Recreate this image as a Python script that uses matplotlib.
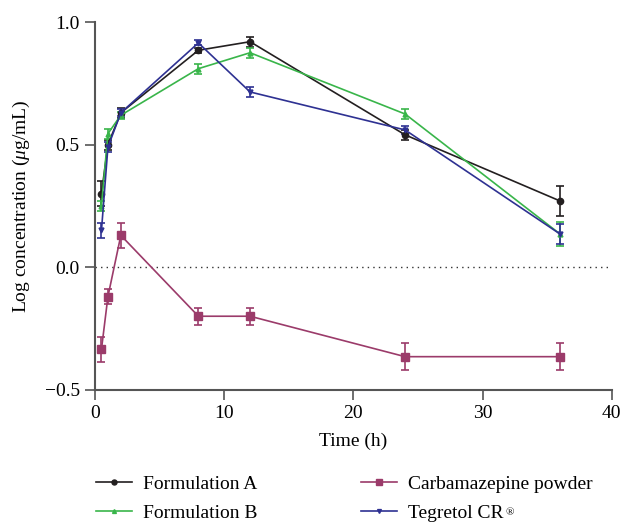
import matplotlib.pyplot as plt
from matplotlib.lines import Line2D
import numpy as np

plt.rcParams["font.family"] = ["Liberation Serif", "DejaVu Serif"]
plt.rcParams["mathtext.fontset"] = "custom"
plt.rcParams["mathtext.it"] = "Liberation Serif:italic"
plt.rcParams["mathtext.rm"] = "Liberation Serif"

time_h = [0.5, 1, 2, 8, 12, 24, 36]

form_a = [0.30, 0.50, 0.63, 0.885, 0.92, 0.54, 0.27]
form_a_err = [0.05, 0.02, 0.02, 0.01, 0.02, 0.02, 0.06]

form_b = [0.25, 0.545, 0.62, 0.81, 0.875, 0.625, 0.135]
form_b_err = [0.02, 0.02, 0.015, 0.02, 0.02, 0.02, 0.05]

powder = [-0.335, -0.12, 0.13, -0.20, -0.20, -0.365, -0.365]
powder_err = [0.05, 0.03, 0.05, 0.035, 0.035, 0.055, 0.055]

tegretol = [0.15, 0.49, 0.63, 0.915, 0.715, 0.56, 0.135]
tegretol_err = [0.03, 0.02, 0.015, 0.01, 0.02, 0.015, 0.04]

series = [
    ("Formulation A", form_a, form_a_err, "#231f20", "o", 4.5),
    ("Formulation B", form_b, form_b_err, "#39b54a", "^", 3.5),
    ("Carbamazepine powder", powder, powder_err, "#9b3b6a", "s", 5.5),
    ("Tegretol CR", tegretol, tegretol_err, "#2e3192", "v", 3.5),
]

fig = plt.figure(figsize=(6.25, 5.26), dpi=100)
ax = fig.add_axes([0.152, 0.259, 0.827, 0.699])

handles = {}
for label, vals, errs, color, marker, ms in series:
    ax.errorbar(
        time_h, vals, yerr=errs, color=color, marker=marker, markersize=ms,
        linewidth=1.2, elinewidth=1.2, capsize=3, capthick=1.2,
    )
    handles[label] = Line2D([], [], color=color, marker=marker,
                            markersize=ms * 0.8, linewidth=1.2)

ax.axhline(0, color="#333333", linestyle=(0, (1, 3)), linewidth=1)

ax.set_xlim(0, 40)
ax.set_ylim(-0.5, 1.0)
ax.set_xticks([0, 10, 20, 30, 40])
ax.set_yticks([-0.5, 0.0, 0.5, 1.0])
ax.set_yticklabels(["\u22120.5", "0.0", "0.5", "1.0"])
for side in ["top", "right"]:
    ax.spines[side].set_visible(False)
for side in ["left", "bottom"]:
    ax.spines[side].set_color("#555555")
    ax.spines[side].set_linewidth(1.5)
ax.tick_params(direction="out", length=7, width=1.2, color="#555555",
               labelsize=14, pad=4)

ax.set_xlabel("Time (h)", fontsize=14, labelpad=8)
ax.set_ylabel(r"Log concentration ($\mu$g/mL)", fontsize=14, labelpad=9)

order = ["Formulation A", "Formulation B", "Carbamazepine powder", "Tegretol CR"]
leg = fig.legend(
    [handles[k] for k in order], order, loc="lower left",
    bbox_to_anchor=(0.125, -0.026), ncol=2, frameon=False, fontsize=14,
    handlelength=1.85, handletextpad=0.6, columnspacing=5.3, labelspacing=0.62,
)

# small superscript registered mark after "Tegretol CR"
fig.canvas.draw()
renderer = fig.canvas.get_renderer()
teg_text = leg.get_texts()[3]
bb = teg_text.get_window_extent(renderer).transformed(fig.transFigure.inverted())
fig.text(bb.x1 + 0.002, bb.y1 - 0.006, "\u00ae", fontsize=8, va="top", ha="left")

fig.savefig("out.png", dpi=100)
